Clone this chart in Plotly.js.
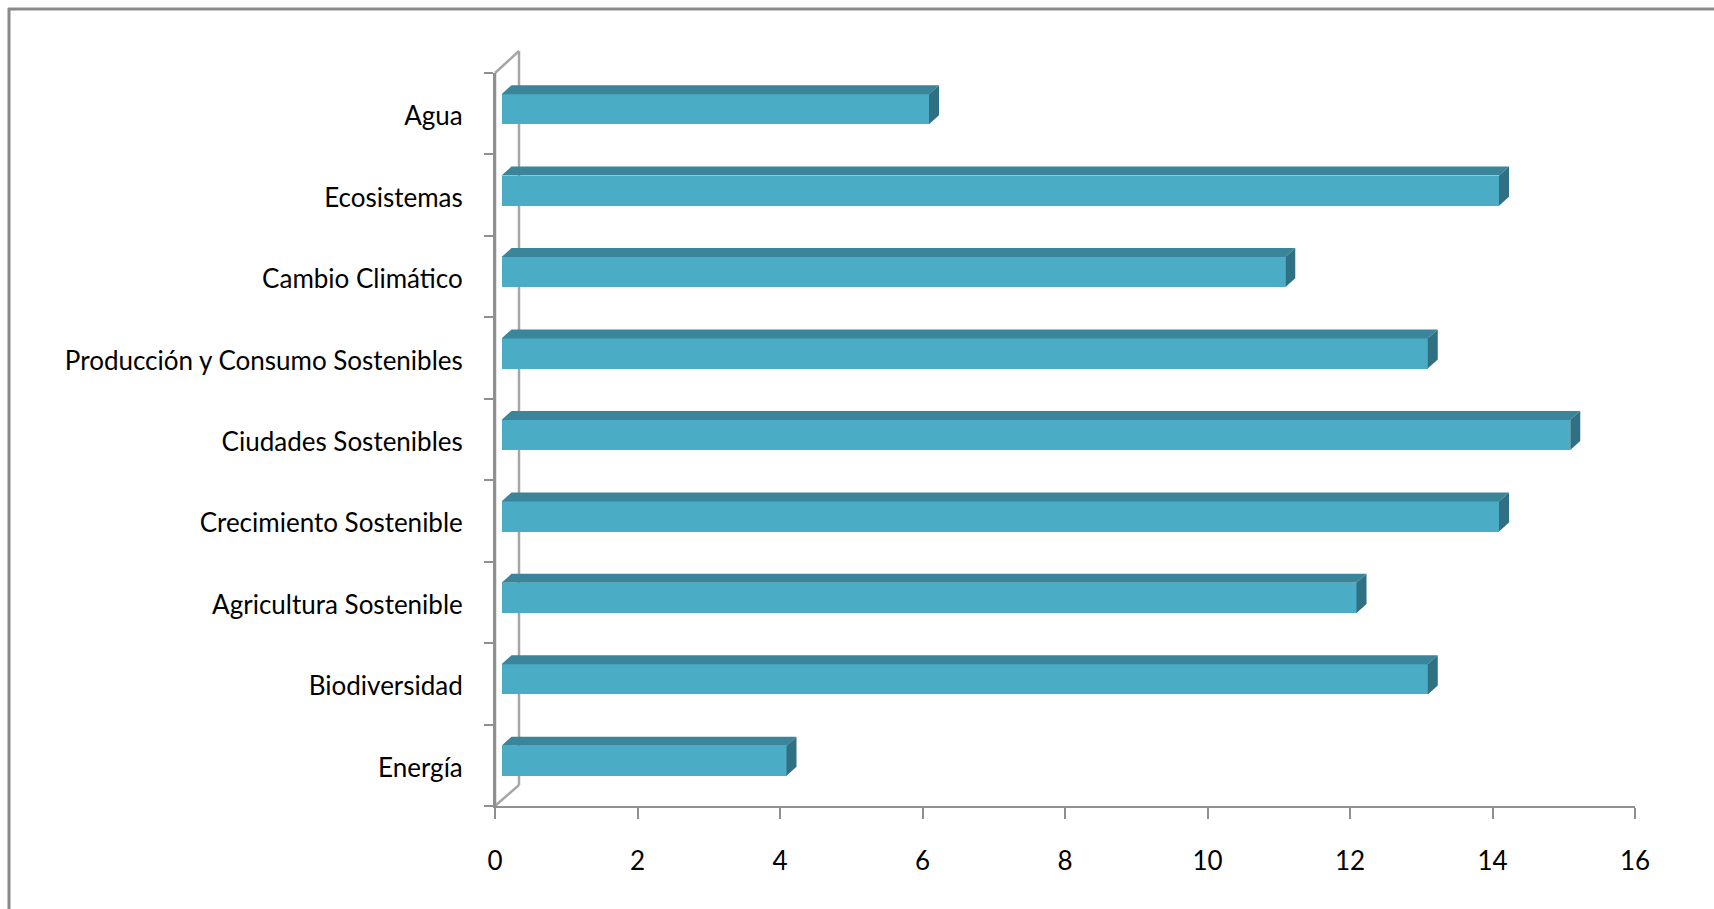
<!DOCTYPE html>
<html>
<head>
<meta charset="utf-8">
<script src="https://cdn.plot.ly/plotly-3.0.1.min.js"></script>
<style>
html,body{margin:0;padding:0;background:#fff;}
#chart{width:1714px;height:909px;}
</style>
</head>
<body>
<div id="chart"></div>
<script>
const categories = ['Agua','Ecosistemas','Cambio Climático','Producción y Consumo Sostenibles','Ciudades Sostenibles','Crecimiento Sostenible','Agricultura Sostenible','Biodiversidad','Energía'];
const values = [6,14,11,13,15,14,12,13,4];
const xTickVals = [0,2,4,6,8,10,12,14,16];

// geometry (pixels)
const W = 1714, H = 909;
const mL = 495, mR = 79, mT = 73, mB = 103;
const plotW = W - mL - mR, plotH = H - mT - mB;
const xMax = 16;
const pxPerX = plotW / xMax;
const nCat = categories.length;
const pxPerY = plotH / nCat;
const barShiftX = 6.5, barShiftY = 4.5; // bars sit slightly inside the 3D box
const depthX = 10, depthY = 9;          // top/side face depth
const barW = 0.37;

const idx = categories.map((c,i)=>i);
const dX = depthX / pxPerX, dY = depthY / pxPerY;

// top & side face polygons built from the values
const topX = [], topY = [], endX = [], endY = [];
values.forEach((v,i)=>{
  const yt = i - barW/2;
  topX.push(0, v, v + dX, dX, 0, null);
  topY.push(yt, yt, yt - dY, yt - dY, yt, null);
  const yb = i + barW/2;
  endX.push(v, v + dX, v + dX, v, v, null);
  endY.push(yt, yt - dY, yb - dY, yb, yt, null);
});

const shiftXu = barShiftX / pxPerX;
const shiftYu = barShiftY / pxPerY;

const font = {family:'Lato, "Open Sans", sans-serif', size:26, color:'#000'};
const axisCol = '#8f8f8f';

const traces = [
  {type:'scatter', x:[0], y:[0], xaxis:'x', yaxis:'y', mode:'markers', marker:{opacity:0}, hoverinfo:'skip', showlegend:false},
  {type:'scatter', x:[0], y:[0], xaxis:'x', yaxis:'y2', mode:'markers', marker:{opacity:0}, hoverinfo:'skip', showlegend:false},
  {type:'bar', orientation:'h', x:values, y:idx, xaxis:'x3', yaxis:'y3', width:barW,
   marker:{color:'#4BACC6', line:{width:0}}, showlegend:false, hoverinfo:'x'},
  {type:'scatter', x:topX, y:topY, xaxis:'x3', yaxis:'y3', mode:'lines', fill:'toself',
   fillcolor:'#3A8599', line:{width:0, color:'#3A8599'}, showlegend:false, hoverinfo:'skip'},
  {type:'scatter', x:endX, y:endY, xaxis:'x3', yaxis:'y3', mode:'lines', fill:'toself',
   fillcolor:'#2F7183', line:{width:0, color:'#2F7183'}, showlegend:false, hoverinfo:'skip'}
];

const bounds = [];
for (let k = 0; k <= nCat; k++) bounds.push(k - 0.5);

function px2paperX(p){ return (p - mL) / plotW; }
function px2paperY(p){ return (H - mB - p) / plotH; }

const backX = px2paperX(519);
const shapes = [
  {type:'line', xref:'paper', yref:'paper', layer:'below', x0:backX, x1:backX, y0:px2paperY(785), y1:px2paperY(51), line:{color:'#a6a6a6', width:2.5}},
  {type:'line', xref:'paper', yref:'paper', layer:'below', x0:0, x1:backX, y0:1, y1:px2paperY(51), line:{color:'#a6a6a6', width:2.5}},
  {type:'line', xref:'paper', yref:'paper', layer:'below', x0:0, x1:backX, y0:0, y1:px2paperY(785), line:{color:'#a6a6a6', width:2.5}},
  {type:'line', xref:'paper', yref:'paper', layer:'below', x0:0, x1:0, y0:0, y1:1, line:{color:axisCol, width:2.5}},
  {type:'line', xref:'paper', yref:'paper', x0:px2paperX(9), x1:px2paperX(9), y0:px2paperY(8), y1:px2paperY(920), line:{color:'#8a8a8a', width:3}},
  {type:'line', xref:'paper', yref:'paper', x0:px2paperX(8), x1:px2paperX(1730), y0:px2paperY(9), y1:px2paperY(9), line:{color:'#8a8a8a', width:3}}
];

const layout = {
  width:W, height:H,
  margin:{l:mL, r:mR, t:mT, b:mB, pad:0},
  paper_bgcolor:'#fff', plot_bgcolor:'rgba(0,0,0,0)',
  showlegend:false,
  xaxis:{range:[0,xMax], tickvals:xTickVals, ticks:'outside', ticklen:11, tickwidth:2, tickcolor:axisCol,
         ticklabelstandoff:20,
         showline:true, linecolor:axisCol, linewidth:2, showgrid:false, zeroline:false, tickfont:font, anchor:'y', fixedrange:true},
  yaxis:{range:[nCat-0.5,-0.5], tickvals:bounds, ticks:'outside', ticklen:9, tickwidth:2, tickcolor:axisCol,
         showticklabels:false, showline:true, linecolor:axisCol, linewidth:2, showgrid:false, zeroline:false, anchor:'x', fixedrange:true},
  yaxis2:{overlaying:'y', anchor:'x', side:'left', range:[nCat-0.5-0.03,-0.5-0.03], tickvals:idx, ticktext:categories,
          ticks:'outside', ticklen:26, tickcolor:'rgba(0,0,0,0)', showline:false, showgrid:false, zeroline:false, tickfont:font, fixedrange:true},
  xaxis3:{overlaying:'x', anchor:'y3', range:[-shiftXu, xMax - shiftXu], visible:false, fixedrange:true},
  yaxis3:{overlaying:'y', anchor:'x3', range:[nCat-0.5+shiftYu, -0.5+shiftYu], visible:false, fixedrange:true},
  shapes:shapes,
  bargap:0
};

Plotly.newPlot('chart', traces, layout, {displayModeBar:false, staticPlot:true});
</script>
</body>
</html>
